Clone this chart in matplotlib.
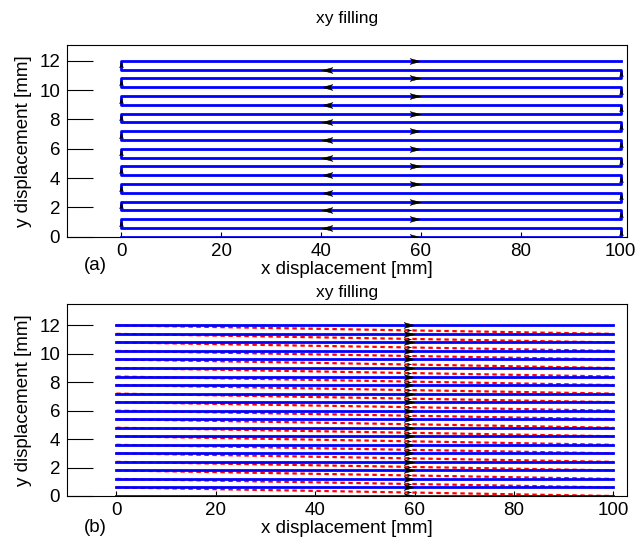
import numpy as np
import matplotlib
matplotlib.use("Agg")
import matplotlib.pyplot as plt
from matplotlib.path import Path

plt.rcParams["font.family"] = ["Liberation Sans", "DejaVu Sans"]

# Row heights of the raster (mm) and the x extent of each pass (mm)
y_rows = [0.0, 0.6, 1.2, 1.8, 2.4, 3.0, 3.6, 4.2, 4.8, 5.4, 6.0,
          6.6, 7.2, 7.8, 8.4, 9.0, 9.6, 10.2, 10.8, 11.4, 12.0]
x_start = 0.0
x_end = 100.0
arrow_frac = 0.588  # where along a move the direction arrow sits

x_ticks = [0, 20, 40, 60, 80, 100]
y_ticks = [0, 2, 4, 6, 8, 10, 12]

W, H = 635, 541
DPI = 100


def arrow_marker(angle_deg):
    v = np.array([[1.0, 0.0], [-1.0, 0.55], [-0.5, 0.0], [-1.0, -0.55], [1.0, 0.0]])
    a = np.deg2rad(angle_deg)
    rot = np.array([[np.cos(a), -np.sin(a)], [np.sin(a), np.cos(a)]])
    v = v @ rot.T
    codes = [Path.MOVETO, Path.LINETO, Path.LINETO, Path.LINETO, Path.CLOSEPOLY]
    return Path(v, codes)


def draw_arrow(ax, p0, p1, size):
    p0 = np.asarray(p0)
    p1 = np.asarray(p1)
    pos = p0 + arrow_frac * (p1 - p0)
    # angle in display space
    d0 = ax.transData.transform(p0)
    d1 = ax.transData.transform(p1)
    ang = np.degrees(np.arctan2(d1[1] - d0[1], d1[0] - d0[0]))
    ax.plot(pos[0], pos[1], linestyle="none", marker=arrow_marker(ang),
            markersize=size, color="black", markeredgewidth=0.3, zorder=5)


def style_axes(ax, xlim, ylim, title, title_pad, tag, tag_y):
    ax.set_xlim(*xlim)
    ax.set_ylim(*ylim)
    ax.set_xticks(x_ticks)
    ax.set_yticks(y_ticks)
    ax.tick_params(axis="x", direction="in", length=3.6, width=0.8, pad=4.5, labelsize=13.5)
    ax.tick_params(axis="y", direction="in", length=18.5, width=0.8, pad=4.8, labelsize=13.5)
    for s in ax.spines.values():
        s.set_linewidth(0.8)
    ax.set_xlabel("x displacement [mm]", fontsize=13.5, labelpad=0.5)
    ax.set_ylabel("y displacement [mm]", fontsize=13.5, labelpad=5)
    ax.set_title(title, fontsize=12.5, pad=title_pad)
    fig.text(95 / W, 1 - tag_y / H, tag, fontsize=13.5, ha="center", va="center")


fig = plt.figure(figsize=(W / DPI, H / DPI), dpi=DPI)

# ---------------- (a) serpentine fill ----------------
ax1 = fig.add_axes([66.7 / W, 1 - 236.7 / H, 560.6 / W, 191.7 / H])
style_axes(ax1, (-10.9, 101.3), (0, 13.08), "xy filling", 16, "(a)", 266)

px, py = [], []
for i, y in enumerate(y_rows):
    if i % 2 == 0:
        px += [x_start, x_end]
    else:
        px += [x_end, x_start]
    py += [y, y]
ax1.plot(px, py, color="blue", linewidth=2.0, solid_joinstyle="round", zorder=3)

fig.canvas.draw()
for k in range(len(px) - 1):
    p0 = (px[k], py[k])
    p1 = (px[k + 1], py[k + 1])
    if py[k] == py[k + 1]:
        draw_arrow(ax1, p0, p1, 7.8)
    else:
        draw_arrow(ax1, p0, p1, 4.8)

# ---------------- (b) unidirectional fill ----------------
ax2 = fig.add_axes([66.7 / W, 1 - 496 / H, 560.6 / W, 192 / H])
style_axes(ax2, (-10.0, 102.8), (0, 13.5), "xy filling", 5, "(b)", 528)

fig.canvas.draw()
for i, y in enumerate(y_rows):
    ax2.plot([x_start, x_end], [y, y], color="blue", linewidth=2.0, zorder=3)
    draw_arrow(ax2, (x_start, y), (x_end, y), 7.8)
for i in range(len(y_rows) - 1):
    p0 = (x_start, y_rows[i + 1])
    p1 = (x_end, y_rows[i])
    ax2.plot([p0[0], p1[0]], [p0[1], p1[1]], color="red", linewidth=1.6,
             linestyle=(0, (2.0, 1.6)), zorder=2)
    draw_arrow(ax2, p0, p1, 3.0)

fig.savefig("out.png", dpi=DPI)
